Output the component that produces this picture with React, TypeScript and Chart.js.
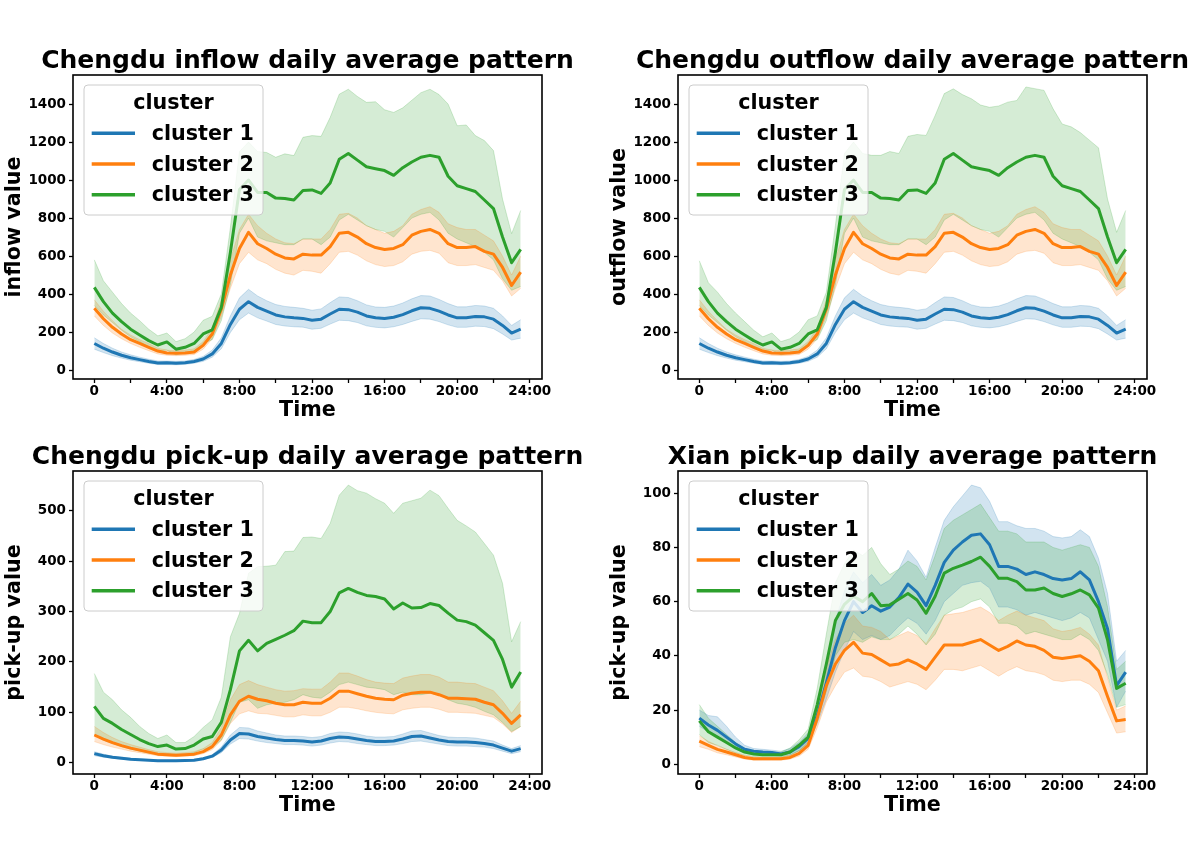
import React, { useEffect, useRef } from 'react';
import { Chart, registerables } from 'chart.js';

Chart.register(...registerables);

// ---------------- data ----------------
const HOURS = [0, 0.5, 1, 1.5, 2, 2.5, 3, 3.5, 4, 4.5, 5, 5.5, 6, 6.5, 7, 7.5, 8, 8.5, 9, 9.5, 10, 10.5, 11, 11.5,
  12, 12.5, 13, 13.5, 14, 14.5, 15, 15.5, 16, 16.5, 17, 17.5, 18, 18.5, 19, 19.5, 20, 20.5, 21, 21.5, 22, 22.5, 23, 23.5];
const X_TICKS = [0, 2, 4, 6, 8, 10, 12, 14, 16, 18, 20, 22, 24];
const X_TICK_LABELS = ['0', '', '4:00', '', '8:00', '', '12:00', '', '16:00', '', '20:00', '', '24:00'];
const CLUSTERS = ['cluster 1', 'cluster 2', 'cluster 3'];
const LEGEND_TITLE = 'cluster';
const X_TITLE = 'Time';

const Y_TICKS_FLOW = [0, 200, 400, 600, 800, 1000, 1200, 1400];
const Y_TICKS_PU = [0, 100, 200, 300, 400, 500];
const Y_TICKS_XA = [0, 20, 40, 60, 80, 100];

// Chengdu inflow
const IN_C1 = [140, 115, 95, 78, 65, 55, 45, 37, 38, 36, 38, 45, 58, 85, 140, 240,
  320, 360, 330, 310, 290, 280, 275, 272, 262, 268, 295, 320, 318, 305, 285, 275,
  272, 278, 292, 312, 328, 325, 310, 290, 275, 275, 282, 280, 268, 235, 195, 215];
const IN_C1_HI = [170, 140, 115, 95, 80, 68, 57, 48, 48, 46, 48, 56, 72, 105, 170, 285,
  380, 425, 390, 365, 345, 335, 330, 325, 315, 322, 355, 385, 382, 365, 343, 332,
  330, 337, 353, 375, 392, 390, 372, 350, 333, 333, 340, 337, 325, 285, 235, 265];
const IN_C1_LO = [110, 92, 76, 63, 52, 44, 36, 29, 29, 28, 30, 36, 46, 68, 112, 198,
  265, 300, 275, 258, 240, 232, 228, 226, 215, 220, 242, 262, 260, 250, 233, 225,
  222, 228, 240, 256, 270, 268, 255, 238, 225, 225, 231, 229, 218, 190, 158, 168];
const IN_C2 = [325, 270, 225, 190, 160, 140, 120, 100, 90, 88, 90, 95, 130, 190, 320, 500,
  640, 725, 665, 640, 610, 590, 585, 610, 605, 605, 650, 720, 725, 700, 665, 645,
  635, 640, 660, 710, 730, 740, 720, 665, 645, 645, 650, 625, 610, 540, 445, 515];
const IN_C2_HI = [370, 310, 260, 215, 185, 160, 140, 115, 105, 102, 105, 112, 150, 220, 370, 580,
  740, 820, 760, 720, 690, 670, 665, 690, 690, 690, 740, 820, 825, 800, 760, 740,
  720, 730, 760, 820, 845, 860, 830, 770, 750, 740, 740, 710, 680, 600, 500, 600];
const IN_C2_LO = [285, 235, 195, 165, 140, 120, 102, 85, 78, 76, 78, 82, 110, 165, 280, 430,
  560, 620, 580, 560, 530, 510, 500, 525, 520, 510, 560, 620, 625, 605, 575, 555,
  545, 550, 570, 610, 625, 630, 615, 565, 550, 550, 555, 540, 525, 470, 390, 430];
const IN_C3 = [435, 360, 300, 255, 215, 185, 155, 132, 148, 110, 120, 140, 190, 212, 330, 620,
  950, 1000, 935, 935, 905, 903, 895, 945, 948, 930, 985, 1110, 1140, 1105, 1070, 1060,
  1050, 1025, 1065, 1095, 1120, 1130, 1120, 1020, 970, 955, 940, 895, 850, 700, 565, 635];
const IN_C3_HI = [580, 470, 410, 350, 300, 260, 215, 180, 195, 150, 165, 200, 262, 283, 400, 750,
  1150, 1200, 1150, 1145, 1120, 1138, 1129, 1225, 1234, 1230, 1330, 1452, 1478, 1440, 1409, 1412,
  1370, 1356, 1380, 1420, 1460, 1478, 1450, 1400, 1286, 1290, 1234, 1208, 1155, 900, 718, 840];
const IN_C3_LO = [340, 290, 250, 210, 175, 150, 120, 100, 105, 80, 90, 100, 140, 160, 260, 450,
  720, 800, 700, 680, 670, 660, 660, 690, 690, 660, 700, 790, 820, 790, 760, 740,
  730, 700, 750, 800, 820, 830, 790, 720, 690, 670, 650, 620, 580, 480, 420, 440];

// Chengdu outflow
const OUT_C1 = [140, 115, 95, 78, 65, 55, 45, 37, 38, 36, 38, 45, 58, 85, 140, 240,
  320, 360, 330, 310, 290, 280, 275, 272, 262, 268, 295, 320, 318, 305, 285, 275,
  272, 278, 292, 312, 328, 325, 310, 290, 275, 275, 282, 280, 268, 235, 195, 215];
const OUT_C1_HI = [170, 140, 115, 95, 80, 68, 57, 48, 48, 46, 48, 56, 72, 105, 170, 285,
  380, 425, 390, 365, 345, 335, 330, 325, 315, 322, 355, 385, 382, 365, 343, 332,
  330, 337, 353, 375, 392, 390, 372, 350, 333, 333, 340, 337, 325, 285, 235, 265];
const OUT_C1_LO = [110, 92, 76, 63, 52, 44, 36, 29, 29, 28, 30, 36, 46, 68, 112, 198,
  265, 300, 275, 258, 240, 232, 228, 226, 215, 220, 242, 262, 260, 250, 233, 225,
  222, 228, 240, 256, 270, 268, 255, 238, 225, 225, 231, 229, 218, 190, 158, 168];
const OUT_C2 = [325, 270, 225, 190, 160, 140, 120, 100, 90, 88, 90, 95, 130, 190, 320, 500,
  640, 725, 665, 640, 610, 590, 585, 610, 605, 605, 650, 720, 725, 700, 665, 645,
  635, 640, 660, 710, 730, 740, 720, 665, 645, 645, 650, 625, 610, 540, 445, 515];
const OUT_C2_HI = [370, 310, 260, 215, 185, 160, 140, 115, 105, 102, 105, 112, 150, 220, 370, 580,
  740, 820, 760, 720, 690, 670, 665, 690, 690, 690, 740, 820, 825, 800, 760, 740,
  720, 730, 760, 820, 845, 860, 830, 770, 750, 740, 740, 710, 680, 600, 500, 600];
const OUT_C2_LO = [285, 235, 195, 165, 140, 120, 102, 85, 78, 76, 78, 82, 110, 165, 280, 430,
  560, 620, 580, 560, 530, 510, 500, 525, 520, 510, 560, 620, 625, 605, 575, 555,
  545, 550, 570, 610, 625, 630, 615, 565, 550, 550, 555, 540, 525, 470, 390, 430];
const OUT_C3 = [435, 360, 300, 255, 215, 185, 155, 132, 148, 110, 120, 140, 190, 212, 330, 620,
  950, 1000, 935, 935, 905, 903, 895, 945, 948, 930, 985, 1110, 1140, 1105, 1070, 1060,
  1050, 1025, 1065, 1095, 1120, 1130, 1120, 1020, 970, 955, 940, 895, 850, 700, 565, 635];
const OUT_C3_HI = [575, 460, 410, 350, 300, 255, 210, 175, 195, 150, 165, 200, 265, 285, 410, 760,
  1140, 1200, 1140, 1130, 1130, 1150, 1140, 1230, 1240, 1235, 1340, 1455, 1480, 1450, 1428, 1395,
  1383, 1390, 1410, 1419, 1490, 1481, 1472, 1375, 1295, 1280, 1250, 1210, 1170, 900, 725, 840];
const OUT_C3_LO = [340, 290, 250, 210, 175, 150, 120, 100, 105, 80, 90, 100, 140, 160, 260, 450,
  720, 800, 700, 680, 670, 660, 660, 690, 690, 660, 700, 790, 820, 790, 760, 740,
  730, 700, 750, 800, 820, 830, 790, 720, 690, 670, 650, 620, 580, 480, 420, 440];

// Chengdu pick-up
const PU_C1 = [18, 14, 11, 9, 7, 6, 5, 4, 4, 4, 4.5, 5, 8, 13, 25, 45,
  58, 57, 52, 49, 46, 44, 44, 43, 41, 43, 48, 51, 50, 47, 44, 42,
  42, 43, 47, 52, 53, 49, 45, 42, 41, 41, 40, 38, 35, 29, 23, 28];
const PU_C1_HI = [22, 17, 13, 11, 9, 7.5, 6.5, 5.5, 5.5, 5.5, 6, 7, 10, 16, 31, 55,
  70, 69, 63, 59, 55, 53, 53, 52, 50, 52, 58, 61, 60, 57, 53, 51,
  51, 52, 57, 63, 64, 59, 54, 51, 50, 50, 49, 46, 43, 35, 28, 34];
const PU_C1_LO = [14, 11, 9, 7, 5.5, 4.8, 4, 3.2, 3.2, 3.2, 3.5, 4, 6.5, 10.5, 20, 37,
  48, 47, 43, 40, 38, 36, 36, 35, 33, 35, 39, 42, 41, 38, 36, 34,
  34, 35, 38, 42, 43, 40, 37, 34, 33, 33, 32, 31, 28, 23, 18, 22];
const PU_C2 = [55, 47, 40, 34, 29, 25, 21, 17, 16, 15, 16, 17, 22, 32, 55, 95,
  122, 132, 126, 123, 118, 115, 115, 120, 118, 118, 128, 142, 142, 137, 132, 128,
  126, 125, 134, 138, 140, 140, 135, 128, 128, 127, 126, 120, 115, 98, 78, 95];
const PU_C2_HI = [72, 60, 50, 42, 36, 31, 26, 22, 20, 19, 20, 22, 28, 40, 70, 125,
  155, 163, 155, 150, 145, 142, 143, 147, 146, 146, 160, 178, 178, 172, 165, 160,
  158, 157, 168, 172, 175, 175, 170, 160, 160, 158, 157, 150, 143, 123, 98, 122];
const PU_C2_LO = [42, 36, 31, 27, 23, 20, 17, 14, 13, 12, 13, 14, 18, 26, 44, 78,
  97, 103, 98, 97, 94, 91, 91, 95, 93, 93, 100, 110, 110, 107, 103, 100,
  98, 97, 105, 108, 110, 110, 106, 100, 100, 99, 98, 94, 90, 77, 60, 72];
const PU_C3 = [112, 88, 78, 66, 56, 46, 38, 32, 35, 27, 28, 35, 47, 52, 80, 145,
  222, 243, 222, 237, 245, 253, 262, 281, 278, 278, 300, 337, 346, 338, 332, 330,
  325, 305, 317, 307, 308, 316, 312, 297, 283, 280, 273, 258, 243, 205, 150, 180];
const PU_C3_HI = [177, 140, 125, 105, 90, 72, 58, 48, 55, 40, 40, 52, 70, 85, 130, 250,
  296, 376, 389, 390, 392, 419, 420, 447, 448, 445, 475, 531, 551, 540, 535, 524,
  515, 495, 515, 520, 525, 541, 530, 505, 481, 470, 458, 435, 412, 356, 240, 280];
const PU_C3_LO = [55, 45, 38, 32, 27, 23, 19, 17, 18, 15, 16, 20, 27, 30, 45, 80,
  120, 125, 108, 115, 118, 120, 125, 135, 130, 128, 140, 155, 160, 155, 150, 148,
  145, 135, 140, 135, 135, 138, 135, 125, 118, 115, 110, 102, 95, 80, 62, 72];

// Xian pick-up
const XA_C1 = [17, 14.5, 12.5, 10, 7.5, 5.5, 4.8, 4.5, 4.3, 3.8, 4.5, 6.5, 9.5, 18, 30, 43,
  53, 60, 56, 58.5, 56.5, 58, 61.5, 66.5, 63.5, 58.5, 66, 74.5, 79, 82, 84.5, 85,
  81, 73, 73, 72, 70, 71, 70, 68.5, 68, 68.5, 71, 68, 60, 50, 29, 34];
const XA_C1_HI = [20, 18, 17.5, 14, 10, 7, 5.8, 5.5, 5.2, 4.8, 5.8, 8, 11.5, 21, 37, 53,
  64, 71, 67, 70, 66, 68, 72, 79, 75, 69, 80, 90, 95, 99, 103, 102,
  97, 89.5, 89.5, 88, 87, 87, 86, 84, 83.5, 84, 86.5, 84, 76, 63, 38, 42];
const XA_C1_LO = [14, 12, 10, 8, 5.5, 4.2, 3.8, 3.5, 3.4, 3, 3.5, 5, 8, 15, 24, 34,
  42, 49, 46, 47.5, 46, 47.5, 51, 54, 52, 48, 53, 60, 63, 66, 67, 67.5,
  65, 58, 58, 57, 55, 56, 55, 54, 53, 54, 56, 54, 46, 38, 21, 27];
const XA_C2 = [8.5, 7, 5.5, 4.5, 3.5, 2.5, 2, 2, 2, 2, 2.5, 4, 7, 17, 29, 37,
  42, 45, 41, 40.5, 38.5, 36.5, 37, 38.5, 37, 35, 39.5, 44, 44, 44, 45, 46,
  44, 42, 43.5, 45.5, 44, 43.5, 42, 39.5, 39, 39.5, 40, 38, 34.5, 25, 16, 16.5];
const XA_C2_HI = [10.5, 8.5, 6.8, 5.5, 4.3, 3.2, 2.6, 2.5, 2.5, 2.6, 3.3, 5, 8.5, 21, 36, 46,
  52, 55, 51, 50.5, 49, 46, 47.5, 49, 47.5, 44.5, 50, 55, 55.5, 56, 57, 58,
  56, 53, 55, 56.5, 55, 54, 53, 50, 49, 49.5, 50.5, 48, 44, 32, 20, 21.5];
const XA_C2_LO = [6.5, 5.5, 4.2, 3.5, 2.7, 1.9, 1.5, 1.5, 1.5, 1.5, 1.9, 3, 5.5, 13.5, 23, 29,
  34, 35.5, 32.5, 32, 30.5, 28.5, 29.5, 30.5, 29.5, 27.5, 31, 35, 35, 34.5, 35.5, 36.5,
  34.5, 32.5, 34.5, 36, 34.5, 34, 33, 31, 30.5, 31, 31, 29.5, 26.5, 19, 11.5, 12];
const XA_C3 = [16, 12, 10, 8, 6, 4.5, 3.8, 3.5, 3.5, 3.5, 4.5, 7, 10, 22, 37, 53,
  59, 62, 60, 63, 58.5, 58.8, 60.9, 63, 60.6, 55.7, 62, 70.5, 72.3, 73.5, 74.8, 76.4,
  73, 68.6, 68.6, 67.4, 64.3, 64.3, 65, 63, 61.9, 62.9, 64.3, 62.5, 57.6, 45.9, 28, 29.9];
const XA_C3_HI = [22, 17, 14, 11, 8, 5.8, 4.8, 4.5, 4.5, 4.5, 6, 9, 13, 28, 48, 67,
  74, 79, 77, 80, 74, 70, 72, 75, 73, 68, 77, 87, 90, 92, 94, 96,
  91, 86, 86, 85, 82, 82, 82, 80, 79, 80, 81, 80, 73, 58, 35, 38];
const XA_C3_LO = [11, 8, 7, 5.5, 4.2, 3.3, 2.8, 2.6, 2.6, 2.6, 3.2, 5, 7.5, 16, 27, 40,
  45, 46, 45, 47, 46, 46, 48, 51, 48, 44, 48, 55, 57, 58, 60, 61,
  58, 52, 52, 51, 48, 49, 48, 47, 46, 46, 48, 46, 42, 33, 21, 22];

// ---------------- styles ----------------
const COLORS = ['#1f77b4', '#ff7f0e', '#2ca02c'];
const BAND_COLORS = ['rgba(31,119,180,0.2)', 'rgba(255,127,14,0.2)', 'rgba(44,160,44,0.2)'];
const FONT = '"DejaVu Sans", "Liberation Sans", sans-serif';

type PanelCfg = {
  left: number; top: number; areaH: number;
  title: string; yTitle: string;
  yMin: number; yMax: number; yTicks: number[];
  means: number[][]; his: number[][]; los: number[][];
};

const PANELS: PanelCfg[] = [
  { left: 0, top: 30, areaH: 304, title: 'Chengdu inflow daily average pattern', yTitle: 'inflow value',
    yMin: -47, yMax: 1553, yTicks: Y_TICKS_FLOW,
    means: [IN_C1, IN_C2, IN_C3], his: [IN_C1_HI, IN_C2_HI, IN_C3_HI], los: [IN_C1_LO, IN_C2_LO, IN_C3_LO] },
  { left: 605, top: 30, areaH: 304, title: 'Chengdu outflow daily average pattern', yTitle: 'outflow value',
    yMin: -47, yMax: 1553, yTicks: Y_TICKS_FLOW,
    means: [OUT_C1, OUT_C2, OUT_C3], his: [OUT_C1_HI, OUT_C2_HI, OUT_C3_HI], los: [OUT_C1_LO, OUT_C2_LO, OUT_C3_LO] },
  { left: 0, top: 426, areaH: 303, title: 'Chengdu pick-up daily average pattern', yTitle: 'pick-up value',
    yMin: -22.4, yMax: 579, yTicks: Y_TICKS_PU,
    means: [PU_C1, PU_C2, PU_C3], his: [PU_C1_HI, PU_C2_HI, PU_C3_HI], los: [PU_C1_LO, PU_C2_LO, PU_C3_LO] },
  { left: 605, top: 426, areaH: 303, title: 'Xian pick-up daily average pattern', yTitle: 'pick-up value',
    yMin: -3.6, yMax: 108.2, yTicks: Y_TICKS_XA,
    means: [XA_C1, XA_C2, XA_C3], his: [XA_C1_HI, XA_C2_HI, XA_C3_HI], los: [XA_C1_LO, XA_C2_LO, XA_C3_LO] },
];

const PAD_TOP = 45;
const AXIS_W = 73;
const AREA_W = 469;
const PAD_RIGHT = 48;
const BOTTOM_H = 55;

const decorPlugin = {
  id: 'decor',
  afterDraw(chart: any, _args: any, opts: any) {
    const { ctx, chartArea: a } = chart;
    ctx.save();
    // frame
    ctx.strokeStyle = '#000';
    ctx.lineWidth = 1.6;
    ctx.strokeRect(a.left, a.top, a.right - a.left, a.bottom - a.top);
    // title
    ctx.fillStyle = '#000';
    ctx.textAlign = 'center';
    ctx.textBaseline = 'alphabetic';
    ctx.font = `bold 25px ${FONT}`;
    ctx.fillText(opts.title, (a.left + a.right) / 2, a.top - 7);
    // x title
    ctx.font = `bold 20.7px ${FONT}`;
    ctx.fillText(X_TITLE, (a.left + a.right) / 2, a.bottom + 37);
    // y title
    ctx.save();
    ctx.translate(a.left - 58, (a.top + a.bottom) / 2);
    ctx.rotate(-Math.PI / 2);
    ctx.textBaseline = 'middle';
    ctx.fillText(opts.yTitle, 0, 0);
    ctx.restore();
    // legend
    const bx = a.left + 11, by = a.top + 10, bw = 179, bh = 130, r = 4;
    ctx.beginPath();
    ctx.moveTo(bx + r, by);
    ctx.lineTo(bx + bw - r, by);
    ctx.arcTo(bx + bw, by, bx + bw, by + r, r);
    ctx.lineTo(bx + bw, by + bh - r);
    ctx.arcTo(bx + bw, by + bh, bx + bw - r, by + bh, r);
    ctx.lineTo(bx + r, by + bh);
    ctx.arcTo(bx, by + bh, bx, by + bh - r, r);
    ctx.lineTo(bx, by + r);
    ctx.arcTo(bx, by, bx + r, by, r);
    ctx.closePath();
    ctx.fillStyle = 'rgba(255,255,255,0.8)';
    ctx.fill();
    ctx.strokeStyle = '#cccccc';
    ctx.lineWidth = 1;
    ctx.stroke();
    ctx.fillStyle = '#000';
    ctx.textAlign = 'center';
    ctx.textBaseline = 'alphabetic';
    ctx.font = `bold 20.7px ${FONT}`;
    ctx.fillText(LEGEND_TITLE, bx + bw / 2, by + 24.3);
    ctx.textAlign = 'left';
    CLUSTERS.forEach((name, k) => {
      const cy = by + 48.3 + k * 30.7;
      ctx.strokeStyle = COLORS[k];
      ctx.lineWidth = 3.5;
      ctx.lineCap = 'butt';
      ctx.beginPath();
      ctx.moveTo(bx + 7.7, cy);
      ctx.lineTo(bx + 51, cy);
      ctx.stroke();
      ctx.fillStyle = '#000';
      ctx.fillText(name, bx + 67.7, by + 55 + k * 30.7);
    });
    ctx.restore();
  },
};

const pts = (arr: number[]) => HOURS.map((h, i) => ({ x: h, y: arr[i] }));

function Panel({ cfg }: { cfg: PanelCfg }) {
  const ref = useRef<HTMLCanvasElement>(null);
  const W = AXIS_W + AREA_W + PAD_RIGHT;
  const H = PAD_TOP + cfg.areaH + BOTTOM_H;

  useEffect(() => {
    const canvas = ref.current!;
    const lineOrder = [2, 1, 0];
    const bandOrder = [10, 9, 8];
    const datasets: any[] = [];
    cfg.means.forEach((m, k) => {
      datasets.push({
        label: CLUSTERS[k], data: pts(m), borderColor: COLORS[k], borderWidth: 3,
        pointRadius: 0, fill: false, tension: 0, order: lineOrder[k],
        borderJoinStyle: 'round', borderCapStyle: 'butt',
      });
    });
    cfg.means.forEach((_m, k) => {
      const upIndex = datasets.length;
      datasets.push({
        label: CLUSTERS[k] + ' hi', data: pts(cfg.his[k]), borderColor: BAND_COLORS[k], borderWidth: 1,
        pointRadius: 0, fill: false, tension: 0, order: bandOrder[k],
      });
      datasets.push({
        label: CLUSTERS[k] + ' lo', data: pts(cfg.los[k]), borderColor: BAND_COLORS[k], borderWidth: 1,
        backgroundColor: BAND_COLORS[k], pointRadius: 0, fill: upIndex, tension: 0, order: bandOrder[k],
      });
    });

    const xAxisH = H - PAD_TOP - cfg.areaH;
    const chart = new Chart(canvas, {
      type: 'line',
      data: { datasets },
      options: {
        animation: false,
        responsive: false,
        maintainAspectRatio: false,
        events: [],
        layout: { padding: { left: 0, top: PAD_TOP, right: PAD_RIGHT, bottom: 0 } },
        plugins: {
          legend: { display: false },
          tooltip: { enabled: false },
          filler: { drawTime: 'beforeDatasetsDraw' },
          decor: { title: cfg.title, yTitle: cfg.yTitle },
        } as any,
        scales: {
          x: {
            type: 'linear',
            min: -1.175,
            max: 24.675,
            afterBuildTicks: (s: any) => { s.ticks = X_TICKS.map((v) => ({ value: v })); },
            afterFit: (s: any) => { s.height = xAxisH; s.paddingLeft = 0; s.paddingRight = 0; },
            ticks: {
              autoSkip: false, maxRotation: 0, minRotation: 0, padding: 0, color: '#000',
              font: { family: FONT, size: 13.5, weight: 'bold' },
              callback: (_v: any, i: number) => X_TICK_LABELS[i],
            },
            grid: { display: true, drawOnChartArea: false, drawTicks: true, tickLength: 4, tickWidth: 1.3, tickColor: '#000' },
            border: { display: false },
          },
          y: {
            type: 'linear',
            min: cfg.yMin,
            max: cfg.yMax,
            afterBuildTicks: (s: any) => { s.ticks = cfg.yTicks.map((v) => ({ value: v })); },
            afterFit: (s: any) => { s.width = AXIS_W; s.paddingTop = 0; s.paddingBottom = 0; },
            ticks: {
              autoSkip: false, padding: 3, color: '#000',
              font: { family: FONT, size: 13.5, weight: 'bold' },
              callback: (v: any) => String(v),
            },
            grid: { display: true, drawOnChartArea: false, drawTicks: true, tickLength: 4, tickWidth: 1.3, tickColor: '#000' },
            border: { display: false },
          },
        },
      } as any,
      plugins: [decorPlugin],
    });
    return () => chart.destroy();
  }, []);

  return (
    <canvas
      ref={ref}
      width={W}
      height={H}
      style={{ position: 'absolute', left: cfg.left, top: cfg.top, width: W, height: H }}
    />
  );
}

export default function App() {
  return (
    <div style={{ position: 'absolute', left: 0, top: 0, width: 1196, height: 852, background: '#fff', overflow: 'hidden' }}>
      {PANELS.map((p, i) => (
        <Panel key={i} cfg={p} />
      ))}
    </div>
  );
}
